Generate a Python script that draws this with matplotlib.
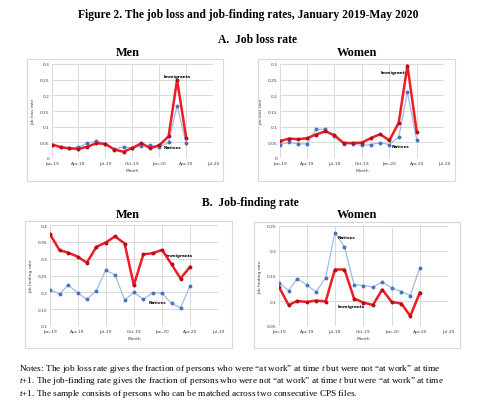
import datetime as dt
import matplotlib
matplotlib.use('Agg')
import matplotlib.pyplot as plt
import matplotlib.dates as mdates
from matplotlib.ticker import FuncFormatter
from matplotlib.patches import Rectangle

# monthly observations, Jan 2019 - Apr 2020
months = [dt.date(2019, m, 1) for m in range(1, 13)] + [dt.date(2020, m, 1) for m in range(1, 5)]

loss_men_imm = [0.043, 0.034, 0.031, 0.029, 0.036, 0.047, 0.045, 0.027,
                0.020, 0.032, 0.047, 0.031, 0.041, 0.069, 0.249, 0.064]
loss_men_nat = [0.043, 0.034, 0.031, 0.035, 0.047, 0.054, 0.045, 0.029,
                0.036, 0.031, 0.039, 0.041, 0.034, 0.050, 0.167, 0.047]
loss_wom_imm = [0.054, 0.062, 0.060, 0.063, 0.075, 0.085, 0.073, 0.048,
                0.048, 0.049, 0.064, 0.076, 0.056, 0.113, 0.295, 0.083]
loss_wom_nat = [0.043, 0.050, 0.045, 0.045, 0.092, 0.092, 0.069, 0.045,
                0.045, 0.040, 0.043, 0.049, 0.043, 0.066, 0.210, 0.058]

find_men_imm = [0.373, 0.325, 0.318, 0.306, 0.288, 0.335, 0.348, 0.366,
                0.345, 0.221, 0.313, 0.316, 0.326, 0.283, 0.241, 0.276]
find_men_nat = [0.207, 0.195, 0.222, 0.199, 0.179, 0.205, 0.265, 0.252,
                0.177, 0.200, 0.179, 0.199, 0.197, 0.167, 0.154, 0.220]
find_wom_imm = [0.128, 0.092, 0.100, 0.098, 0.101, 0.099, 0.163, 0.163,
                0.105, 0.097, 0.092, 0.123, 0.098, 0.095, 0.070, 0.117]
find_wom_nat = [0.137, 0.121, 0.145, 0.132, 0.118, 0.147, 0.237, 0.208,
                0.133, 0.131, 0.128, 0.138, 0.126, 0.119, 0.111, 0.167]

RED = '#ee1c24'
BLUE_LINE = '#9dbde6'
BLUE_MK = '#4a72c0'
SERIF = 'Liberation Serif'

plt.rcParams['mathtext.fontset'] = 'custom'
plt.rcParams['mathtext.it'] = 'Liberation Serif:italic'
plt.rcParams['mathtext.rm'] = 'Liberation Serif'

W, H = 500, 410
fig = plt.figure(figsize=(W / 100, H / 100), dpi=100)


def px_axes(x0, x1, y0, y1):
    return fig.add_axes([x0 / W, 1 - y1 / H, (x1 - x0) / W, (y1 - y0) / H])


def box(x0, x1, y0, y1):
    fig.patches.append(Rectangle((x0 / W, 1 - y1 / H), (x1 - x0) / W, (y1 - y0) / H,
                                 transform=fig.transFigure, fill=False,
                                 edgecolor='#d9d9d9', linewidth=0.8))


def panel(ax, imm, nat, ymin, ymax, step, ylabel, imm_pos, nat_pos):
    ax.plot(months, nat, color=BLUE_LINE, lw=0.9, marker='o', ms=1.8,
            mfc=BLUE_MK, mec=BLUE_MK, zorder=3)
    ax.plot(months, imm, color=RED, lw=1.8, marker='o', ms=1.8,
            mfc='#b0101a', mec='#b0101a', zorder=4)
    ax.set_xlim(dt.date(2019, 1, 1), dt.date(2020, 7, 1))
    ax.set_ylim(ymin, ymax)
    ticks = [dt.date(2019, 1, 1), dt.date(2019, 4, 1), dt.date(2019, 7, 1),
             dt.date(2019, 10, 1), dt.date(2020, 1, 1), dt.date(2020, 4, 1),
             dt.date(2020, 7, 1)]
    ax.set_xticks(ticks)
    ax.xaxis.set_major_formatter(mdates.DateFormatter('%b-%y'))
    n = int(round((ymax - ymin) / step))
    ax.set_yticks([ymin + i * step for i in range(n + 1)])
    ax.yaxis.set_major_formatter(FuncFormatter(lambda v, p: ('%.2f' % v).rstrip('0').rstrip('.')))
    ax.grid(True, color='#d9d9d9', lw=0.7)
    ax.set_axisbelow(True)
    for s in ax.spines.values():
        s.set_visible(False)
    ax.tick_params(length=0, labelsize=3.2, pad=2, colors='#404040')
    ax.set_xlabel('Month', fontsize=3.2, labelpad=2, color='#404040')
    ax.set_ylabel(ylabel, fontsize=3.2, labelpad=3, color='#404040')
    ax.text(imm_pos[0], imm_pos[1], 'Immigrants', fontsize=3, fontweight='bold',
            ha='center', va='center')
    ax.text(nat_pos[0], nat_pos[1], 'Natives', fontsize=3, fontweight='bold',
            ha='center', va='center')


# frames around each chart
box(27, 223, 60, 182)
box(258, 455, 60, 182)
box(25, 232, 222, 349)
box(254, 460, 223, 349)

a1 = px_axes(52, 213, 65, 159)
panel(a1, loss_men_imm, loss_men_nat, 0, 0.3, 0.05, 'Job loss rate',
      (dt.date(2020, 3, 1), 0.262), (dt.date(2020, 2, 15), 0.035))
a2 = px_axes(280, 444, 65, 159)
panel(a2, loss_wom_imm, loss_wom_nat, 0, 0.3, 0.05, 'Job loss rate',
      (dt.date(2020, 1, 18), 0.274), (dt.date(2020, 2, 7), 0.038))
b1 = px_axes(50, 218, 226, 327)
panel(b1, find_men_imm, find_men_nat, 0.1, 0.4, 0.05, 'Job finding rate',
      (dt.date(2020, 2, 27), 0.311), (dt.date(2019, 12, 18), 0.171))
b2 = px_axes(279, 448, 227, 327)
panel(b2, find_wom_imm, find_wom_nat, 0.05, 0.25, 0.05, 'Job finding rate',
      (dt.date(2019, 8, 24), 0.090), (dt.date(2019, 8, 8), 0.228))

fig.text(248 / W, 1 - 15 / H, 'Figure 2. The job loss and job-finding rates, January 2019-May 2020',
         family=SERIF, fontweight='bold', fontsize=8.4, ha='center', va='center')
fig.text(257 / W, 1 - 40 / H, 'A.  Job loss rate', family=SERIF, fontweight='bold',
         fontsize=8.4, ha='center', va='center')
fig.text(128 / W, 1 - 53 / H, 'Men', family=SERIF, fontweight='bold',
         fontsize=8.8, ha='center', va='center')
fig.text(357 / W, 1 - 53 / H, 'Women', family=SERIF, fontweight='bold',
         fontsize=8.8, ha='center', va='center')
fig.text(250 / W, 1 - 203 / H, 'B.  Job-finding rate', family=SERIF, fontweight='bold',
         fontsize=8.4, ha='center', va='center')
fig.text(128 / W, 1 - 215 / H, 'Men', family=SERIF, fontweight='bold',
         fontsize=8.8, ha='center', va='center')
fig.text(357 / W, 1 - 215 / H, 'Women', family=SERIF, fontweight='bold',
         fontsize=8.8, ha='center', va='center')

notes = ['Notes: The job loss rate gives the fraction of persons who were \u201cat work\u201d at time $t$ but were not \u201cat work\u201d at time',
         '$t$+1. The job-finding rate gives the fraction of persons who were not \u201cat work\u201d at time $t$ but were \u201cat work\u201d at time',
         '$t$+1. The sample consists of persons who can be matched across two consecutive CPS files.']
for i, line in enumerate(notes):
    fig.text(19 / W, 1 - (369 + 12.3 * i) / H, line, family=SERIF, fontsize=6.7,
             ha='left', va='center')

fig.savefig('out.png', dpi=100)
